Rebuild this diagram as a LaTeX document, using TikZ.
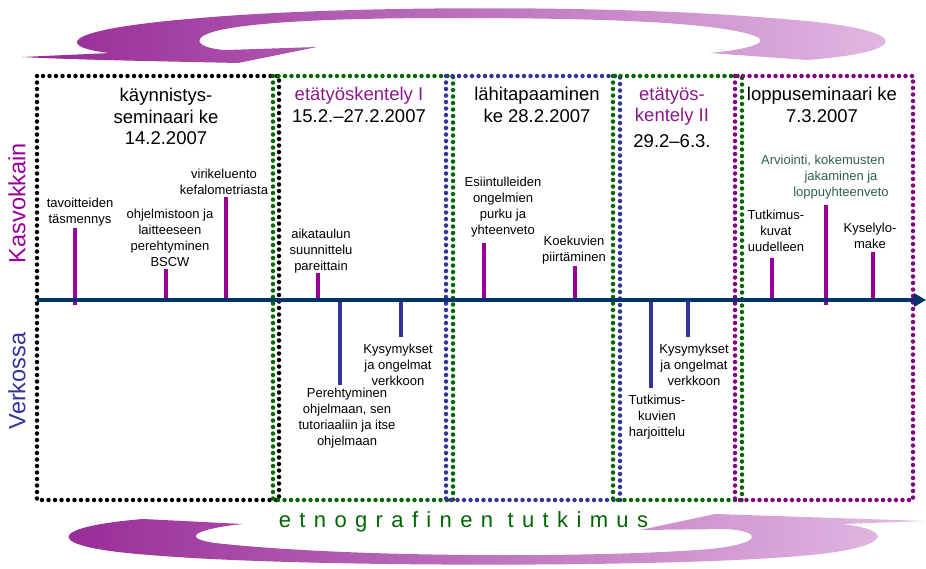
\documentclass[tikz,border=0pt]{standalone}
\usepackage{fontspec}
\setmainfont{Liberation Sans}
\usetikzlibrary{arrows.meta}
\definecolor{navy}{RGB}{0,51,102}
\definecolor{kvpurple}{RGB}{153,0,153}
\definecolor{boxpurple}{RGB}{128,0,128}
\definecolor{vkblue}{RGB}{51,51,153}
\definecolor{dkgreen}{RGB}{0,102,0}
\definecolor{tealgreen}{RGB}{47,95,75}
\definecolor{ttlpurple}{RGB}{140,25,140}
\definecolor{arrdark}{RGB}{150,40,150}
\definecolor{arrlight}{RGB}{228,188,228}
\begin{document}
\begin{tikzpicture}[x=1pt,y=-1pt,
    dots/.style={line width=4.5pt,line cap=round,dash pattern=on 0pt off 6.5pt},
    kv/.style={kvpurple,line width=3.3pt},
    vk/.style={vkblue,line width=3.3pt},
    lbl/.style={inner sep=0pt,align=center,font=\fontsize{13}{16}\selectfont},
    ttl/.style={inner sep=0pt,align=center,font=\fontsize{18.5}{21.5}\selectfont},
    side/.style={inner sep=0pt,font=\fontsize{23.5}{26}\selectfont,rotate=90}]
      \useasboundingbox (0,0) rectangle (926,568);
      \shade[left color=arrdark,right color=arrlight] (22,57) -- (110,53) .. controls (60,48) and (50,30) .. (200,18) .. controls (350,5) and (620,5) .. (770,18) .. controls (920,28) and (915,52) .. (807,60) -- (710,53) .. controls (760,48) and (775,40) .. (745,33) .. controls (700,22) and (600,18) .. (450,18) .. controls (300,18) and (220,25) .. (203,36) .. controls (190,45) and (215,50) .. (227,50) -- (317,47) -- (238,63) .. controls (150,61) and (80,60) .. (22,57) -- cycle;
      \shade[left color=arrdark,right color=arrlight] (143,519) -- (243,524) .. controls (195,529) and (180,538) .. (215,543) .. controls (350,558) and (600,558) .. (710,549) .. controls (760,544) and (765,532) .. (727,529) -- (640,530) -- (715,514) -- (925,521) -- (842,524) .. controls (895,530) and (890,546) .. (820,554) .. controls (700,568) and (300,568) .. (150,555) .. controls (40,547) and (45,527) .. (143,519) -- cycle;
      \draw[dots,black] (37,76) rectangle (279,500);
      \draw[dots,dkgreen] (273,76) rectangle (453,500);
      \draw[dots,vkblue] (446,76) rectangle (620,500);
      \draw[dots,dkgreen] (613,76) rectangle (742,500);
      \draw[dots,boxpurple] (735,76) rectangle (913,500);
      \node[ttl] (S1) at (166,116.5) {käynnistys-\\seminaari ke\\14.2.2007};
      \node[ttl] (S2) at (359,105) {\textcolor{ttlpurple}{etätyöskentely I}\\15.2.–27.2.2007};
      \node[ttl] (S3) at (537,105) {lähitapaaminen\\ke 28.2.2007};
      \node[ttl] (S4) at (672,117.5) {\textcolor{ttlpurple}{etätyös-}\\\textcolor{ttlpurple}{kentely II}\\[4pt]29.2–6.3.};
      \node[ttl] (S5) at (822,105) {loppuseminaari ke\\7.3.2007};
      \node[side,kvpurple] (K) at (17,203) {Kasvokkain};
      \node[side,vkblue] (V) at (17,381) {Verkossa};
      \coordinate (X0) at (37,300);
      \coordinate (X1) at (926,300);
      \coordinate (X2) at (37,305);
      \node[lbl] (A1) at (80,212.5) {tavoitteiden\\täsmennys};
      \node[lbl] (A2) at (170,238) {ohjelmistoon ja\\laitteeseen\\perehtyminen\\BSCW};
      \node[lbl] (A3) at (224,181.5) {virikeluento\\kefalometriasta};
      \node[lbl] (A4) at (321,251) {aikataulun\\suunnittelu\\pareittain};
      \node[lbl] (A5) at (503,207.5) {Esiintulleiden\\ongelmien\\purku ja\\yhteenveto};
      \node[lbl] (A6) at (574,250) {Koekuvien\\piirtäminen};
      \node[lbl] (A7) at (776,231) {Tutkimus-\\kuvat\\uudelleen};
      \node[lbl,text=tealgreen] (A8) at (841,177.5) {Arviointi, kokemusten\hspace*{36pt}\\jakaminen ja\\loppuyhteenveto};
      \node[lbl] (A9) at (870,235.5) {Kyselylo-\\make};
      \node[lbl] (B1) at (347,418) {Perehtyminen\\ohjelmaan, sen\\tutoriaaliin ja itse\\ohjelmaan};
      \node[lbl] (B2) at (398,365) {Kysymykset\\ja ongelmat\\verkkoon};
      \node[lbl] (B3) at (657,417.5) {Tutkimus-\\kuvien\\harjoittelu};
      \node[lbl] (B4) at (694,365) {Kysymykset\\ja ongelmat\\verkkoon};
      \coordinate (a1) at (75,228);
      \coordinate (a2) at (166,269);
      \coordinate (a3) at (226,197);
      \coordinate (a4) at (318,273);
      \coordinate (a5) at (484,243);
      \coordinate (a6) at (575,266);
      \coordinate (a7) at (772,258);
      \coordinate (a8) at (826,205);
      \coordinate (a9) at (873,252);
      \coordinate (b1) at (340,385);
      \coordinate (b2) at (401,337);
      \coordinate (b3) at (651,388);
      \coordinate (b4) at (688,337);
      \draw[kv] (a1) -- (a1 |- X2);
      \draw[kv] (a2) -- (a2 |- X0);
      \draw[kv] (a3) -- (a3 |- X0);
      \draw[kv] (a4) -- (a4 |- X0);
      \draw[kv] (a5) -- (a5 |- X0);
      \draw[kv] (a6) -- (a6 |- X0);
      \draw[kv] (a7) -- (a7 |- X0);
      \draw[kv] (a8) -- (a8 |- X2);
      \draw[kv] (a9) -- (a9 |- X0);
      \draw[vk] (b1) -- (b1 |- X0);
      \draw[vk] (b2) -- (b2 |- X0);
      \draw[vk] (b3) -- (b3 |- X0);
      \draw[vk] (b4) -- (b4 |- X0);
      \draw[navy,line width=4pt,-{Triangle[length=12pt,width=13pt]}] (X0) -- (X1);
      %\draw[navy,line width=4pt] (X0) -- (X1);
      \node[inner sep=0pt,text=dkgreen,font=\fontsize{22}{25}\selectfont\addfontfeature{LetterSpace=38}] (E) at (463.5,522) {etnografinen tutkimus};
    \end{tikzpicture}
\end{document}
